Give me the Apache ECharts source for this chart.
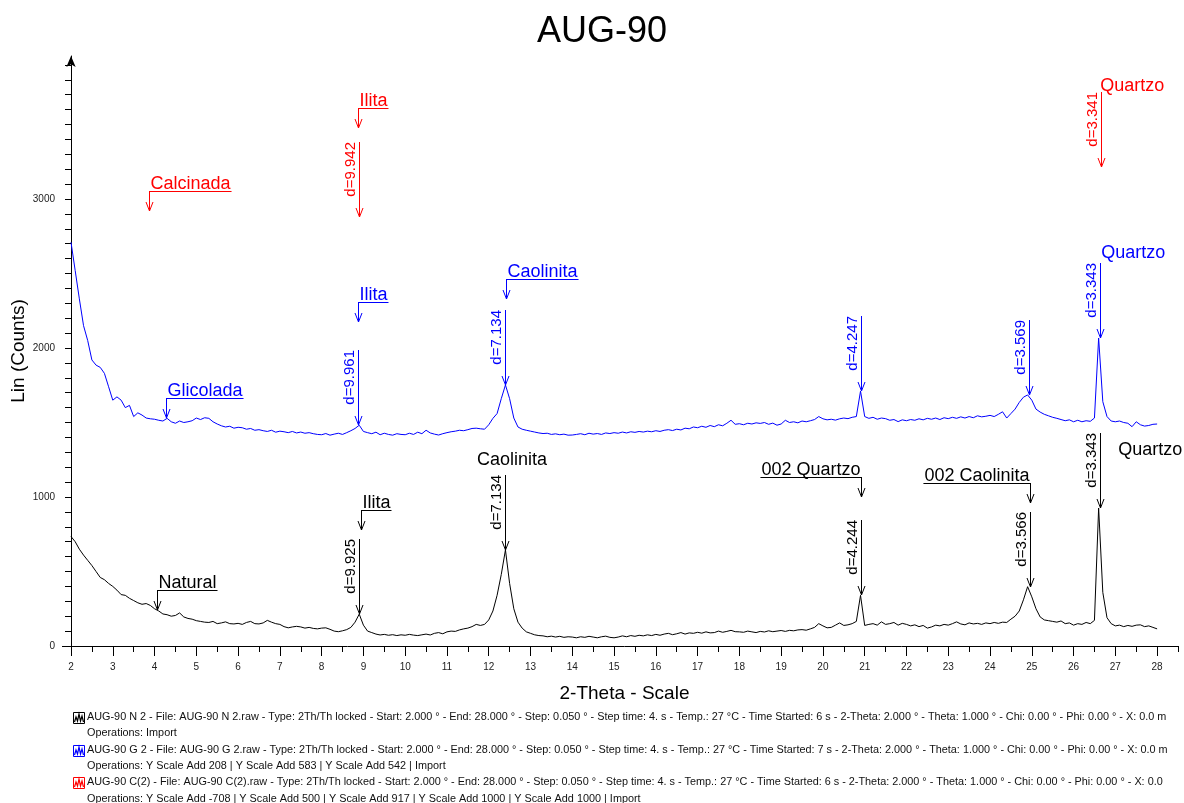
<!DOCTYPE html>
<html>
<head>
<meta charset="utf-8">
<title>AUG-90</title>
<script src="https://cdn.jsdelivr.net/npm/echarts@6/dist/echarts.min.js"></script>
<style>
  html, body { margin: 0; padding: 0; background: #ffffff; }
  #chart { width: 1184px; height: 803px; }
</style>
</head>
<body>
<div id="chart"></div>
<script>
// Diffractogram samples, one value every 0.1 deg 2-theta from 2.0 to 28.0
const SCAN_START = 2.0;
const SAMPLE_STEP = 0.1;

// AUG-90 N 2 (natural)
const naturalCounts = [
  735, 700, 650, 610, 575, 540, 500, 460, 445, 420,
  400, 375, 345, 340, 320, 305, 290, 280, 285, 272,
  250, 235, 215, 210, 200, 205, 222, 195, 185, 180,
  170, 165, 160, 158, 165, 150, 155, 162, 150, 148,
  152, 145, 158, 165, 150, 148, 155, 172, 160, 150,
  145, 130, 122, 128, 132, 128, 120, 125, 118, 115,
  120, 122, 112, 100, 96, 102, 110, 125, 160, 214,
  140, 100, 90, 80, 74, 78, 72, 76, 70, 75,
  72, 78, 73, 70, 75, 80, 74, 85, 90, 82,
  95, 100, 98, 108, 115, 120, 130, 145, 138, 145,
  175, 235, 340, 480, 645, 420, 250, 160, 120, 95,
  85, 75, 70, 68, 62, 66, 60, 65, 58, 62,
  60, 55, 62, 58, 65, 60, 55, 62, 66, 58,
  55, 60, 68, 62, 70, 65, 72, 68, 75, 70,
  78, 72, 80, 85, 76, 82, 90, 80, 88, 85,
  92, 86, 95, 88, 90, 100, 92, 98, 105, 96,
  95, 92, 100, 95, 90, 98, 94, 102, 96, 100,
  104, 98, 105, 102, 108, 110, 106, 115, 125, 150,
  135, 122, 125, 140, 155, 138, 142, 150, 165, 340,
  138, 145, 150, 140, 162, 145, 150, 158, 140, 152,
  145, 135, 142, 130, 138, 120, 128, 140, 135, 145,
  140, 150, 162, 148, 142, 155, 148, 152, 145, 155,
  150, 158, 152, 160, 158, 180, 200, 235, 310, 398,
  330, 250, 195, 175, 170, 165, 160, 168, 150, 155,
  140, 150, 145, 158, 150, 172, 926, 360, 190, 150,
  135, 140, 130, 138, 132, 140, 142, 130, 135, 125,
  115
];

// AUG-90 G 2 (glycolated, shifted up by the Y Scale Add operations)
const glicoladaCounts = [
  2710, 2520, 2330, 2150, 2050, 1920, 1885, 1870, 1830, 1740,
  1650, 1672, 1650, 1600, 1615, 1540, 1565, 1550, 1530, 1525,
  1522, 1515, 1510, 1528, 1505, 1495, 1510, 1500, 1505, 1512,
  1530, 1520, 1532, 1528, 1505, 1490, 1478, 1470, 1475, 1462,
  1468, 1465, 1455, 1460, 1448, 1452, 1445, 1440, 1448, 1435,
  1442, 1438, 1432, 1440, 1430, 1436, 1428, 1432, 1425, 1420,
  1418, 1426, 1415, 1422, 1428, 1420, 1432, 1445, 1460, 1482,
  1440, 1432, 1425, 1435, 1418, 1428, 1420, 1415, 1425, 1420,
  1418, 1428, 1420, 1435, 1425, 1448, 1430, 1422, 1416, 1425,
  1432, 1438, 1442, 1448, 1445, 1452, 1460, 1462, 1458, 1455,
  1485, 1528, 1560, 1660, 1752, 1660, 1530, 1470, 1455, 1448,
  1442, 1436, 1430, 1426, 1428, 1420, 1424, 1418, 1422, 1415,
  1416, 1420, 1425, 1418, 1428, 1422, 1426, 1420, 1430, 1426,
  1432, 1428, 1436, 1430, 1438, 1434, 1440, 1436, 1442, 1438,
  1445, 1440, 1448, 1452, 1446, 1455, 1450, 1462, 1458, 1470,
  1465, 1475, 1468, 1480, 1472, 1485, 1478, 1495, 1515, 1488,
  1492, 1485, 1495, 1490, 1498, 1494, 1500, 1488, 1496, 1482,
  1490, 1515, 1500, 1505, 1498, 1510, 1505, 1512, 1520, 1540,
  1525, 1518, 1522, 1516, 1525, 1530, 1526, 1535, 1540, 1711,
  1540, 1528, 1535, 1522, 1530, 1526, 1515, 1520, 1506, 1518,
  1512, 1520, 1515, 1525, 1518, 1528, 1522, 1530, 1520, 1532,
  1526, 1535, 1528, 1538, 1530, 1540, 1532, 1545, 1538, 1542,
  1548, 1540, 1555, 1572, 1530, 1560, 1590, 1635, 1670, 1685,
  1650, 1590, 1570, 1555, 1545, 1535, 1528, 1520, 1512, 1518,
  1505, 1515, 1505, 1512, 1508, 1530, 2067, 1640, 1540, 1510,
  1505, 1510, 1500, 1495, 1472, 1505, 1485, 1476, 1480, 1488,
  1490
];

// Axis tick labels
const xTickLabels = [2, 3, 4, 5, 6, 7, 8, 9, 10, 11, 12, 13, 14, 15, 16, 17, 18, 19, 20, 21, 22, 23, 24, 25, 26, 27, 28];
const yTickLabels = [0, 1000, 2000, 3000];

// Peak markers: [d-spacing in angstrom, intensity at the arrow tip]
const dMarksNatural = [[9.925, 214], [7.134, 645], [4.244, 340], [3.566, 398], [3.343, 926]];
const dMarksGlicolada = [[9.961, 1483], [7.134, 1752], [4.247, 1711], [3.569, 1685], [3.343, 2067]];
const dMarksCalcinada = [[9.942, 2879], [3.341, 3215]];

// Phase labels with a leader: [text, 2-theta of leader, intensity at arrow tip, leader side]
const phasesNatural = [['Natural', 4.06, 242, 'left'], ['Ilita', 8.94, 779, 'left'],
                       ['002 Quartzo', 20.91, 1000, 'right'], ['002 Caolinita', 24.95, 960, 'right']];
const phasesGlicolada = [['Glicolada', 4.27, 1530, 'left'], ['Ilita', 8.87, 2174, 'left'],
                         ['Caolinita', 12.41, 2329, 'left']];
const phasesCalcinada = [['Calcinada', 3.87, 2919, 'left'], ['Ilita', 8.87, 3477, 'left']];

// Plain phase names: [text, 2-theta of left edge, intensity at text middle]
const notesNatural = [['Caolinita', 11.72, 1248], ['Quartzo', 27.07, 1315]];
const notesGlicolada = [['Quartzo', 26.66, 2638]];
const notesCalcinada = [['Quartzo', 26.64, 3758]];

// Scan descriptions shown under the plot
const scanInfo = [
  ['AUG-90 N 2 - File: AUG-90 N 2.raw - Type: 2Th/Th locked - Start: 2.000 ° - End: 28.000 ° - Step: 0.050 ° - Step time: 4. s - Temp.: 27 °C - Time Started: 6 s - 2-Theta: 2.000 ° - Theta: 1.000 ° - Chi: 0.00 ° - Phi: 0.00 ° - X: 0.0 m',
   'Operations: Import'],
  ['AUG-90 G 2 - File: AUG-90 G 2.raw - Type: 2Th/Th locked - Start: 2.000 ° - End: 28.000 ° - Step: 0.050 ° - Step time: 4. s - Temp.: 27 °C - Time Started: 7 s - 2-Theta: 2.000 ° - Theta: 1.000 ° - Chi: 0.00 ° - Phi: 0.00 ° - X: 0.0 m',
   'Operations: Y Scale Add 208 | Y Scale Add 583 | Y Scale Add 542 | Import'],
  ['AUG-90 C(2) - File: AUG-90 C(2).raw - Type: 2Th/Th locked - Start: 2.000 ° - End: 28.000 ° - Step: 0.050 ° - Step time: 4. s - Temp.: 27 °C - Time Started: 6 s - 2-Theta: 2.000 ° - Theta: 1.000 ° - Chi: 0.00 ° - Phi: 0.00 ° - X: 0.0',
   'Operations: Y Scale Add -708 | Y Scale Add 500 | Y Scale Add 917 | Y Scale Add 1000 | Y Scale Add 1000 | Import']
];

const BLACK = '#000000';
const BLUE = '#0000ff';
const RED = '#ff0000';
const FONT = '"Liberation Sans", Arial, Helvetica, sans-serif';
const CU_KALPHA = 1.5406;

// Bragg's law: 2-theta (deg) of a reflection with spacing d (Cu K-alpha)
function braggTwoTheta(d) {
  return 2 * Math.asin(CU_KALPHA / (2 * d)) * 180 / Math.PI;
}

function toPairs(values) {
  return values.map((v, i) => [+(SCAN_START + i * SAMPLE_STEP).toFixed(2), v]);
}

const measureCtx = document.createElement('canvas').getContext('2d');
function textWidth(text, size) {
  measureCtx.font = size + 'px ' + FONT;
  return measureCtx.measureText(text).width;
}

// Collect annotations
const annotations = [];
function addDMarks(list, color) {
  list.forEach(([d, tip]) => annotations.push({ kind: 'd', x: braggTwoTheta(d), y: tip, color, text: 'd=' + d.toFixed(3) }));
}
function addPhases(list, color) {
  list.forEach(([text, x, tip, side]) => annotations.push({ kind: 'phase', x, y: tip, color, text, side }));
}
function addNotes(list, color) {
  list.forEach(([text, x, y]) => annotations.push({ kind: 'note', x, y, color, text }));
}
addDMarks(dMarksNatural, BLACK);
addDMarks(dMarksGlicolada, BLUE);
addDMarks(dMarksCalcinada, RED);
addPhases(phasesNatural, BLACK);
addPhases(phasesGlicolada, BLUE);
addPhases(phasesCalcinada, RED);
addNotes(notesNatural, BLACK);
addNotes(notesGlicolada, BLUE);
addNotes(notesCalcinada, RED);

const D_LINE_LEN = 75;
const LEADER_LEN = 20;
const D_FONT = 15;
const PHASE_FONT = 18;

function arrowHead(x, y, color) {
  return {
    type: 'polyline',
    shape: { points: [[x - 3.5, y - 9], [x, y], [x + 3.5, y - 9]] },
    style: { stroke: color, fill: null, lineWidth: 1 }
  };
}
function segment(x1, y1, x2, y2, color) {
  return { type: 'line', shape: { x1, y1, x2, y2 }, style: { stroke: color, lineWidth: 1 } };
}
function label(x, y, text, size, color, align, vAlign, rotation) {
  return {
    type: 'text', x, y, rotation: rotation || 0,
    style: {
      text, fill: color, font: size + 'px ' + FONT,
      align, verticalAlign: vAlign, textAlign: align, textVerticalAlign: vAlign
    }
  };
}

function renderAnnotation(params, api) {
  const a = annotations[params.dataIndex];
  const p = api.coord([a.x, a.y]);
  const x = Math.round(p[0]) + 0.5;
  const y = Math.round(p[1]);
  const children = [];
  if (a.kind === 'd') {
    const top = y - D_LINE_LEN;
    children.push(segment(x, top, x, y, a.color));
    children.push(arrowHead(x, y, a.color));
    children.push(label(x - 1, top, a.text, D_FONT, a.color, 'right', 'bottom', Math.PI / 2));
  } else if (a.kind === 'phase') {
    const top = y - LEADER_LEN;
    const w = textWidth(a.text, PHASE_FONT) + 2;
    children.push(segment(x, top, x, y, a.color));
    children.push(arrowHead(x, y, a.color));
    if (a.side === 'left') {
      children.push(segment(x, top + 0.5, x + w, top + 0.5, a.color));
      children.push(label(x + 1, top - 7, a.text, PHASE_FONT, a.color, 'left', 'middle'));
    } else {
      children.push(segment(x - w, top + 0.5, x, top + 0.5, a.color));
      children.push(label(x - 1, top - 7, a.text, PHASE_FONT, a.color, 'right', 'middle'));
    }
  } else {
    children.push(label(p[0], p[1], a.text, PHASE_FONT, a.color, 'left', 'middle'));
  }
  return { type: 'group', children };
}

// Tick positions
const xMinorTicks = [];
for (let v = 2; v <= 28.5 + 1e-9; v += 0.5) xMinorTicks.push(+v.toFixed(1));
const yTicks = [];
for (let v = 0; v <= 3900; v += 100) yTicks.push(v);

// Legend block under the plot
const LEGEND_FONT = 10.85;
const legendGraphics = [];
const legendColors = [BLACK, BLUE, RED];
const legendTop = 717;
const legendRow = 16.3;
scanInfo.forEach(([line1, line2], i) => {
  const yc = legendTop + i * 2 * legendRow;
  const c = legendColors[i];
  legendGraphics.push({
    type: 'group', x: 73, y: Math.round(yc - 5),
    children: [
      { type: 'rect', shape: { x: 0.5, y: 0.5, width: 11, height: 11 }, style: { stroke: c, fill: null, lineWidth: 1 } },
      { type: 'polyline', shape: { points: [[1.5, 10], [3, 5], [4.5, 9], [6, 2], [7.5, 9], [9, 4], [10.5, 10]] },
        style: { stroke: c, fill: null, lineWidth: 1.2 } }
    ]
  });
  legendGraphics.push({ type: 'text', x: 87, y: yc, style: { text: line1, fill: '#111', font: LEGEND_FONT + 'px ' + FONT, verticalAlign: 'middle' } });
  legendGraphics.push({ type: 'text', x: 87, y: yc + legendRow, style: { text: line2, fill: '#111', font: LEGEND_FONT + 'px ' + FONT, verticalAlign: 'middle' } });
});

const chart = echarts.init(document.getElementById('chart'), null, { renderer: 'canvas' });

const option = {
  animation: false,
  backgroundColor: '#ffffff',
  title: {
    text: 'AUG-90', left: 532, top: 9,
    textStyle: { fontSize: 36, fontWeight: 'normal', color: '#000', fontFamily: FONT }
  },
  grid: { left: 71, right: 6, top: 56, bottom: 157, containLabel: false, outerBoundsMode: 'none' },
  xAxis: [
    {
      type: 'value', min: 2, max: 28.5,
      name: '2-Theta - Scale', nameLocation: 'middle', nameGap: 38, nameMoveOverlap: false,
      nameTextStyle: { fontSize: 19, color: '#000', fontFamily: FONT },
      axisLine: { lineStyle: { color: '#000', width: 1 } },
      axisTick: { show: true, length: 10, inside: false, customValues: xTickLabels, lineStyle: { color: '#000' } },
      axisLabel: { customValues: xTickLabels, margin: 16, fontSize: 10, color: '#222', fontFamily: FONT,
                   formatter: v => String(v) },
      splitLine: { show: false }
    },
    {
      type: 'value', min: 2, max: 28.5, position: 'bottom',
      axisLine: { show: false },
      axisTick: { show: true, length: 6, customValues: xMinorTicks, lineStyle: { color: '#000' } },
      axisLabel: { show: false },
      splitLine: { show: false }
    }
  ],
  yAxis: {
    type: 'value', min: 0, max: 3960,
    name: 'Lin (Counts)', nameLocation: 'middle', nameGap: 43, nameRotate: 90, nameMoveOverlap: false,
    nameTextStyle: { fontSize: 19, color: '#000', fontFamily: FONT },
    axisLine: { show: true, symbol: ['none', 'arrow'], symbolSize: [7, 11], lineStyle: { color: '#000', width: 1 } },
    axisTick: { show: true, length: 6, customValues: yTicks, lineStyle: { color: '#000' } },
    axisLabel: { customValues: yTickLabels, margin: 16, fontSize: 10, color: '#222', fontFamily: FONT,
                 formatter: v => String(v) },
    splitLine: { show: false }
  },
  series: [
    {
      name: 'AUG-90 N 2', type: 'line', data: toPairs(naturalCounts),
      showSymbol: false, silent: true,
      lineStyle: { color: BLACK, width: 1 }
    },
    {
      name: 'AUG-90 G 2', type: 'line', data: toPairs(glicoladaCounts),
      showSymbol: false, silent: true,
      lineStyle: { color: BLUE, width: 1 }
    },
    {
      name: 'annotations', type: 'custom', silent: true, z: 5,
      data: annotations.map(a => [a.x, a.y]),
      renderItem: renderAnnotation
    }
  ],
  graphic: legendGraphics
};

chart.setOption(option);

// Short axis overhangs past the origin
const origin = chart.convertToPixel({ xAxisIndex: 0, yAxisIndex: 0 }, [2, 0]);
chart.setOption({
  graphic: legendGraphics.concat([
    { type: 'line', shape: { x1: origin[0] - 9, y1: origin[1] + 0.5, x2: origin[0], y2: origin[1] + 0.5 }, style: { stroke: '#000', lineWidth: 1 } },
    { type: 'line', shape: { x1: origin[0] + 0.5, y1: origin[1], x2: origin[0] + 0.5, y2: origin[1] + 9 }, style: { stroke: '#000', lineWidth: 1 } }
  ])
});
</script>
</body>
</html>
